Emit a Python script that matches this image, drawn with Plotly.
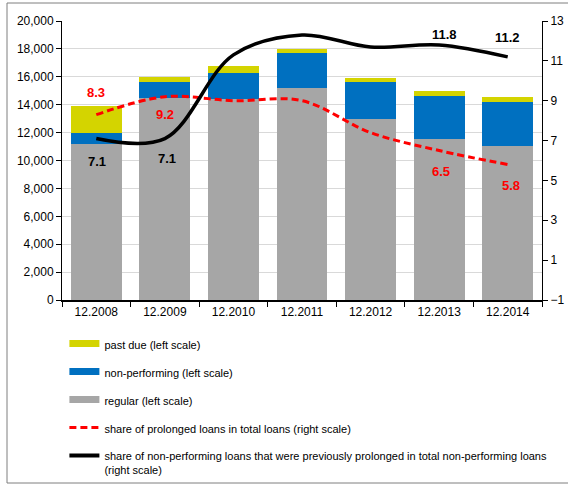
import plotly.graph_objects as go

categories = ["12.2008", "12.2009", "12.2010", "12.2011", "12.2012", "12.2013", "12.2014"]
regular = [11200, 14500, 14400, 15200, 13000, 11550, 11050]
non_performing = [800, 1100, 1900, 2500, 2600, 3050, 3150]
past_due = [1900, 400, 500, 300, 350, 350, 350]
share_prolonged = [8.3, 9.2, 9.0, 9.0, 7.4, 6.5, 5.8]
share_np_prolonged = [7.1, 7.1, 11.3, 12.3, 11.7, 11.8, 11.2]

names = [
    "past due (left scale)",
    "non-performing (left scale)",
    "regular (left scale)",
    "share of prolonged loans in total loans (right scale)",
    "share of non-performing loans that were previously prolonged in total non-performing loans<br>(right scale)",
]
YELLOW = "#d4d400"
BLUE = "#0070c0"
GRAY = "#a6a6a6"
RED = "#ff0000"
FONT = "Liberation Sans"

fig = go.Figure()
fig.add_trace(go.Bar(x=categories, y=regular, marker_color=GRAY, showlegend=False, marker_line_width=0))
fig.add_trace(go.Bar(x=categories, y=non_performing, marker_color=BLUE, showlegend=False, marker_line_width=0))
fig.add_trace(go.Bar(x=categories, y=past_due, marker_color=YELLOW, showlegend=False, marker_line_width=0))

fig.add_trace(go.Scatter(x=categories, y=share_prolonged, yaxis="y2", mode="lines",
                         line=dict(color=RED, width=3, dash="7px,4px", shape="spline", smoothing=1),
                         showlegend=False))
fig.add_trace(go.Scatter(x=categories, y=share_np_prolonged, yaxis="y2", mode="lines",
                         line=dict(color="black", width=3.5, shape="spline", smoothing=1),
                         showlegend=False))

# legend entries
legend_styles = [
    dict(color=YELLOW, width=7),
    dict(color=BLUE, width=7),
    dict(color=GRAY, width=7),
    dict(color=RED, width=3, dash="7px,4px"),
    dict(color="black", width=4),
]
for i, (nm, st) in enumerate(zip(names, legend_styles)):
    fig.add_trace(go.Scatter(x=[categories[0]], y=[None], mode="lines", line=st, name=nm,
                             legendgroup=f"g{i}", yaxis="y2"))

# data labels
labels = [
    (0, share_prolonged, RED, 22, 0),
    (1, share_prolonged, RED, -18, 0),
    (5, share_prolonged, RED, -21, 2),
    (6, share_prolonged, RED, -21, 3),
    (0, share_np_prolonged, "black", -23, 1),
    (1, share_np_prolonged, "black", -20, 2),
    (5, share_np_prolonged, "black", 10, 5),
    (6, share_np_prolonged, "black", 19, 0),
]
for idx, series, col, ys, xs in labels:
    fig.add_annotation(x=idx, y=series[idx], xref="x", yref="y2",
                       text=f"<b>{series[idx]:.1f}</b>", showarrow=False,
                       yshift=ys, xshift=xs, font=dict(color=col, size=13, family=FONT))

# outer frame
fig.add_shape(type="rect", xref="paper", yref="paper",
              x0=-55 / 480, x1=600 / 480, y0=-183 / 279, y1=297 / 279,
              line=dict(color="#7f7f7f", width=1), layer="below")

fig.update_layout(
    width=568, height=486,
    margin=dict(l=62, r=26, t=21, b=186, autoexpand=False),
    barmode="stack", bargap=0.26,
    plot_bgcolor="white", paper_bgcolor="white",
    font=dict(family=FONT, size=12, color="black"),
    xaxis=dict(type="category", range=[-0.5, 6.5], showline=True, linecolor="black", linewidth=2,
               ticks="outside", tickson="boundaries", ticklen=5, tickcolor="black",
               tickfont=dict(size=12), showgrid=False, tickangle=0, automargin=False),
    yaxis=dict(range=[0, 20000], dtick=2000, tickformat=",", showline=True, linecolor="black",
               linewidth=1, ticks="outside", ticklen=5, tickcolor="black",
               showgrid=True, gridcolor="#d9d9d9", gridwidth=1, zeroline=False,
               tickfont=dict(size=12), automargin=False),
    yaxis2=dict(range=[-1, 13], tick0=-1, dtick=2, overlaying="y", side="right", showline=True,
                linecolor="black", linewidth=1, ticks="outside", ticklen=5, tickcolor="black",
                showgrid=False, zeroline=False, tickfont=dict(size=12), automargin=False),
    legend=dict(x=0.005, y=-0.107, xanchor="left", yanchor="top", orientation="v",
                traceorder="grouped", tracegroupgap=9, valign="top",
                font=dict(size=11, family=FONT), bgcolor="rgba(0,0,0,0)"),
    showlegend=True,
)

fig.write_html("out.html", config={"displayModeBar": False},
               post_script="document.body.style.margin='0';document.body.style.padding='0';")
